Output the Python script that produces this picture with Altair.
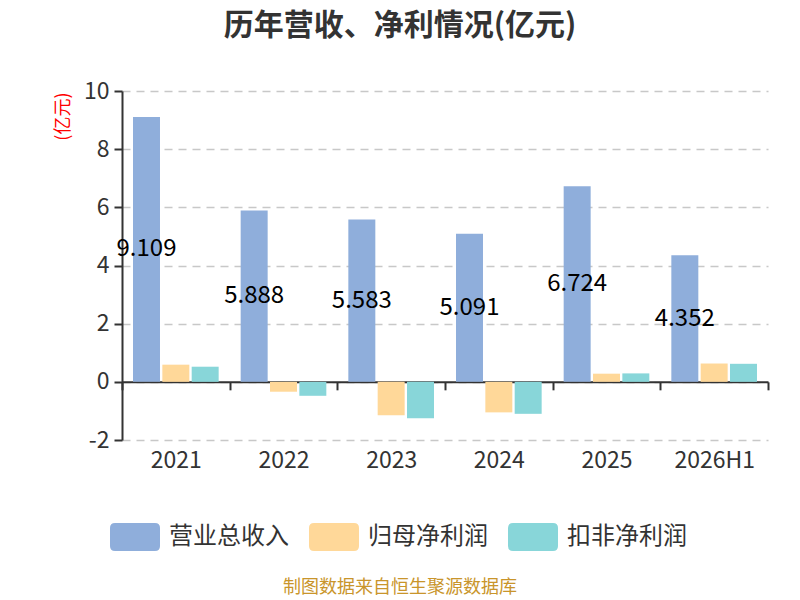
import altair as alt
import pandas as pd

years = ["2021", "2022", "2023", "2024", "2025", "2026H1"]
series = ["营业总收入", "归母净利润", "扣非净利润"]
revenue = [9.109, 5.888, 5.583, 5.091, 6.724, 4.352]
net_profit = [0.59, -0.34, -1.15, -1.05, 0.28, 0.63]
deducted_profit = [0.52, -0.48, -1.25, -1.10, 0.29, 0.62]
colors = ["#8FAEDB", "#FFD899", "#88D6D9"]

rows = []
for i, y in enumerate(years):
    for s, vals in zip(series, [revenue, net_profit, deducted_profit]):
        rows.append({"year": y, "series": s, "value": vals[i],
                     "label": f"{vals[i]:.3f}", "mid": vals[i] / 2})
df = pd.DataFrame(rows)

FONT = "Noto Sans CJK SC"
W, H = 646, 349

rounded = ("M-0.8,-0.56 L0.8,-0.56 Q1,-0.56 1,-0.36 L1,0.36 Q1,0.56 0.8,0.56 "
           "L-0.8,0.56 Q-1,0.56 -1,0.36 L-1,-0.36 Q-1,-0.56 -0.8,-0.56 Z")

x_enc = alt.X("year:N", sort=years, title=None,
              scale=alt.Scale(paddingInner=0, paddingOuter=0),
              axis=alt.Axis(offset=-H * 2 / 12, domainColor="#333", domainWidth=2,
                            tickBand="extent", tickColor="#333", tickWidth=2, tickSize=8,
                            labelPadding=60, labelFontSize=23, labelColor="#333",
                            labelFont=FONT, labelAngle=0))

bars = alt.Chart(df).mark_bar().encode(
    x=x_enc,
    xOffset=alt.XOffset("series:N", sort=series,
                        scale=alt.Scale(paddingInner=0.08, paddingOuter=0.375)),
    y=alt.Y("value:Q", scale=alt.Scale(domain=[-2, 10], nice=False),
            axis=alt.Axis(values=[-2, 0, 2, 4, 6, 8, 10], title="(亿元)",
                          labelExpr="'' + datum.value",
                          titleColor="#FF0000", titleFontSize=18, titleFont=FONT,
                          titleFontWeight="normal", titleAngle=-90,
                          titleX=-59, titleY=1, titleAlign="right",
                          titleBaseline="middle",
                          labelFontSize=23, labelColor="#333", labelFont=FONT,
                          labelPadding=5, tickColor="#333", tickWidth=2, tickSize=8,
                          domainColor="#333", domainWidth=2,
                          grid=True, gridColor="#c8c8c8", gridDash=[8, 6],
                          gridWidth=1.5)),
    color=alt.Color("series:N", sort=series,
                    scale=alt.Scale(domain=series, range=colors),
                    legend=alt.Legend(title=None, orient="none", direction="horizontal",
                                      legendX=-12, legendY=421,
                                      symbolType=rounded, symbolSize=2500,
                                      symbolStrokeWidth=0, symbolOpacity=1,
                                      labelFontSize=24, labelColor="#333",
                                      labelFont=FONT, labelOffset=9,
                                      columnPadding=20, labelLimit=300)),
)

labels = alt.Chart(df[df["series"] == "营业总收入"]).mark_text(
    fontSize=24, color="#000", font=FONT
).encode(
    x=alt.X("year:N", sort=years),
    xOffset=alt.XOffset("series:N", sort=series),
    y=alt.Y("mid:Q"),
    text="label:N",
)

title = alt.Chart(pd.DataFrame({"t": ["历年营收、净利情况(亿元)"]})).mark_text(
    fontSize=30, fontWeight="bold", color="#333", font=FONT
).encode(x=alt.value(278), y=alt.value(-65), text="t:N")

source = alt.Chart(pd.DataFrame({"t": ["制图数据来自恒生聚源数据库"]})).mark_text(
    fontSize=18, color="#C9952B", font=FONT
).encode(x=alt.value(278), y=alt.value(497), text="t:N")

chart = alt.layer(bars, labels, title, source).properties(
    width=W, height=H,
    autosize=alt.AutoSizeParams(type="none"),
    padding={"left": 114, "top": 83, "right": 24, "bottom": 160},
).configure_view(stroke=None)

chart.save("out.html", embed_options={"renderer": "svg", "actions": False})
